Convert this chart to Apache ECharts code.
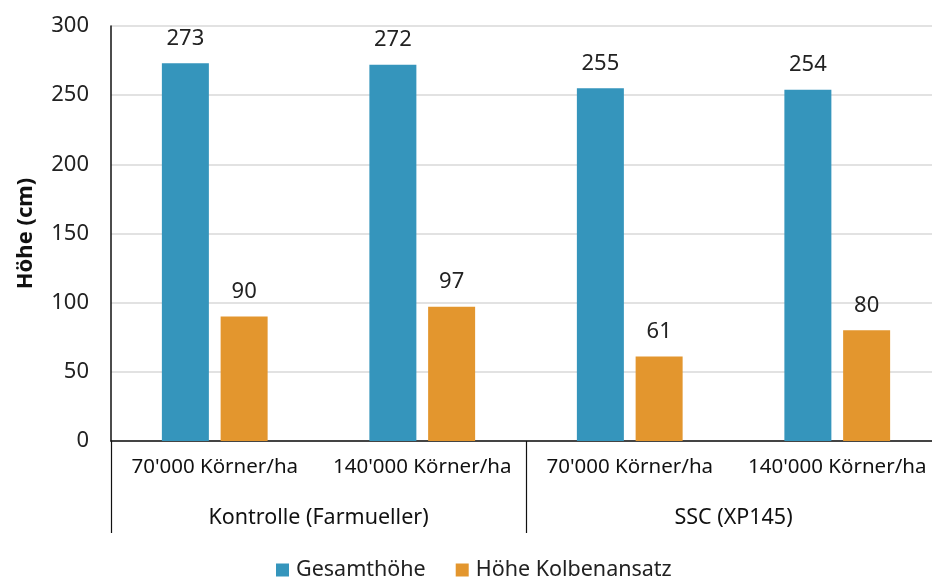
<!DOCTYPE html>
<html>
<head>
<meta charset="utf-8">
<script src="https://cdn.jsdelivr.net/npm/echarts@6/dist/echarts.min.js"></script>
<style>
  html, body { margin: 0; padding: 0; background: #fff; }
  #chart { width: 932px; height: 579px; }
</style>
</head>
<body>
<div id="chart"></div>
<script>
// categories
const densities = ["70'000 Körner/ha", "140'000 Körner/ha", "70'000 Körner/ha", "140'000 Körner/ha"];
const groups = ['Kontrolle (Farmueller)', 'SSC (XP145)'];
// values (cm)
const gesamthoehe = [273, 272, 255, 254];
const kolbenansatz = [90, 97, 61, 80];
const yTicks = [0, 50, 100, 150, 200, 250, 300];

const font = 'Noto Sans';
const chart = echarts.init(document.getElementById('chart'));

const option = {
  animation: false,
  textStyle: { fontFamily: font },
  grid: { left: 111, width: 830, top: 26, bottom: 138, containLabel: false, outerBoundsMode: 'none' },
  legend: {
    top: 559,
    left: 276,
    padding: 0,
    itemWidth: 13,
    itemHeight: 13,
    itemGap: 30,
    icon: 'rect',
    textStyle: { fontSize: 21.5, color: '#222', fontFamily: font, padding: [0, 0, 0, 2] },
    data: ['Gesamthöhe', 'Höhe Kolbenansatz']
  },
  xAxis: [
    {
      type: 'category',
      data: densities,
      position: 'bottom',
      axisLine: { lineStyle: { color: '#111', width: 1.5 } },
      axisTick: { show: false },
      axisLabel: { fontSize: 20.5, color: '#111', margin: 16, interval: 0 }
    },
    {
      type: 'category',
      data: groups,
      position: 'bottom',
      axisLine: { show: false },
      axisTick: { show: true, length: 92, lineStyle: { color: '#111', width: 1.2 } },
      axisLabel: { fontSize: 21.5, color: '#111', margin: 66 },
      splitLine: { show: false }
    }
  ],
  yAxis: {
    type: 'value',
    min: yTicks[0],
    max: yTicks[yTicks.length - 1],
    interval: 50,
    name: 'Höhe (cm)',
    nameLocation: 'middle',
    nameGap: 74,
    nameTextStyle: { fontSize: 22, fontWeight: 'bold', color: '#111', fontFamily: font },
    axisLine: { show: true, lineStyle: { color: '#111', width: 1.5 } },
    axisTick: { show: false },
    axisLabel: { fontSize: 22, color: '#222', margin: 22 },
    splitLine: { lineStyle: { color: '#d9d9d9', width: 1.5 } }
  },
  series: [
    {
      name: 'Gesamthöhe',
      type: 'bar',
      data: gesamthoehe,
      barWidth: 47,
      barGap: '25%',
      itemStyle: { color: '#3595bc' },
      label: { show: true, position: 'top', distance: 14, fontSize: 22, color: '#222' }
    },
    {
      name: 'Höhe Kolbenansatz',
      type: 'bar',
      data: kolbenansatz,
      barWidth: 47,
      barGap: '25%',
      itemStyle: { color: '#e3962e' },
      label: { show: true, position: 'top', distance: 14, fontSize: 22, color: '#222' }
    }
  ]
};

chart.setOption(option);
</script>
</body>
</html>
